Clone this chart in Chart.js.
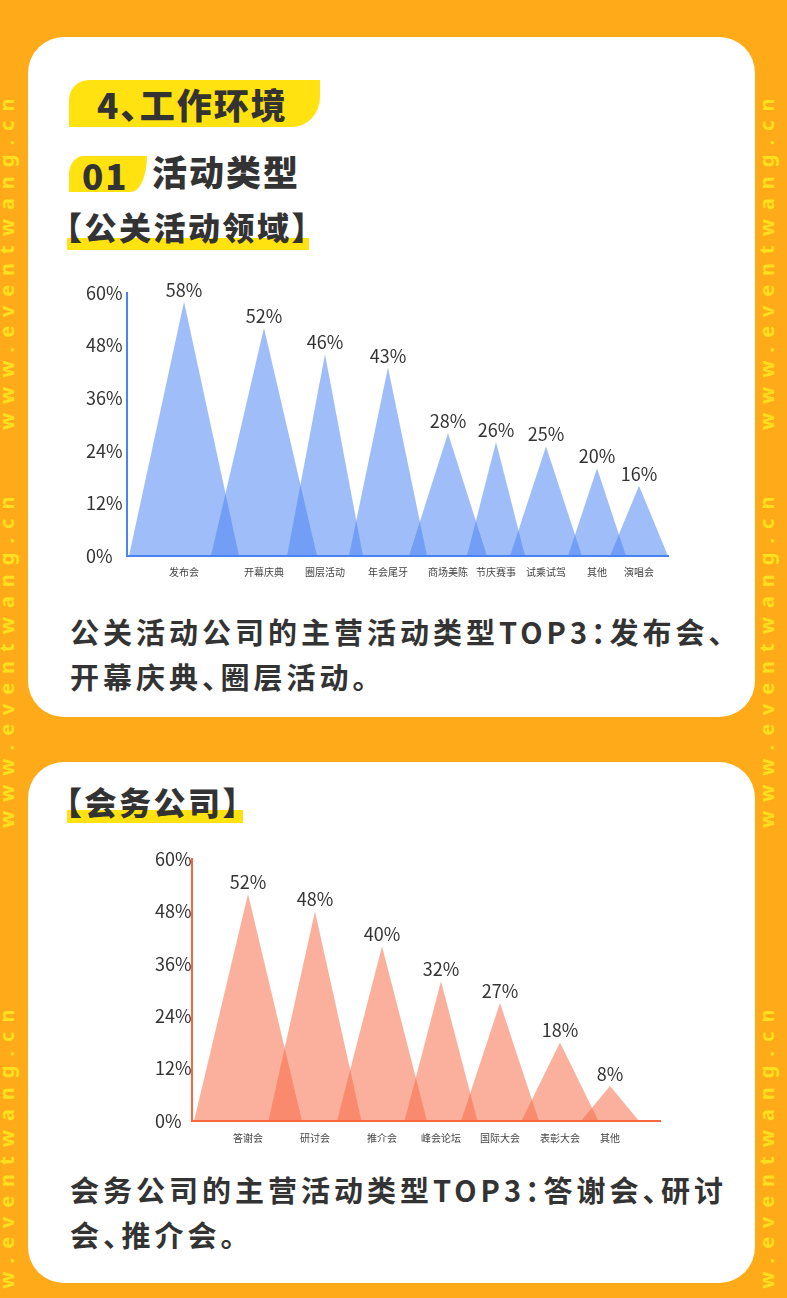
<!DOCTYPE html>
<html lang="zh-CN">
<head>
<meta charset="utf-8">
<script src="https://cdn.jsdelivr.net/npm/chart.js@4.4.1/dist/chart.umd.min.js"></script>
<style>
  html, body { margin: 0; padding: 0; }
  body {
    width: 787px; height: 1298px; position: relative; overflow: hidden;
    background: #FFAB19; color: #333;
    font-family: "Noto Sans CJK SC", "Noto Sans", sans-serif;
  }
  .wm { position: absolute; top: 1298px; width: 1298px; height: 20px;
        transform-origin: 0 0; transform: rotate(-90deg); }
  .wm span { position: absolute; top: 0; white-space: nowrap;
        font-family: "Noto Sans", sans-serif; font-weight: 700; font-size: 20px;
        line-height: 20px; letter-spacing: 9px; color: #FFE01F; }
  .card { position: absolute; left: 28px; width: 727px; background: #fff; border-radius: 36px; }
  .abs { position: absolute; white-space: nowrap; }
  .pill { position: absolute; background: #FFE20F; }
  .bar { position: absolute; background: #FFE20F; }
  .h1 { font-size: 35px; font-weight: 900; line-height: 47px; letter-spacing: 2px; }
  .h2 { font-size: 35px; font-weight: 900; line-height: 36px; letter-spacing: 2px; }
  .h3 { font-size: 32px; font-weight: 900; line-height: 32px; letter-spacing: 2.5px; }
  .para { font-size: 29px; font-weight: 700; line-height: 45px; letter-spacing: 4px; }
  .hw { font-feature-settings: "halt" 1; }
  canvas { position: absolute; }
</style>
</head>
<body>
  <div class="wm" style="left:-3px"><span style="left:-43px">www.eventwang.cn</span><span style="left:470px">www.eventwang.cn</span><span style="left:868px">www.eventwang.cn</span></div>
  <div class="wm" style="left:757px"><span style="left:-43px">www.eventwang.cn</span><span style="left:470px">www.eventwang.cn</span><span style="left:868px">www.eventwang.cn</span></div>

  <div class="card" style="top:37px;height:680px"></div>
  <div class="card" style="top:762px;height:521px"></div>

  <div class="pill" style="left:69px;top:80px;width:251px;height:47px;border-radius:20px 0 28px 0 / 20px 0 30px 0"></div>
  <div class="abs h1" style="left:97px;top:80px">4<span class="hw">、</span>工作环境</div>

  <div class="pill" style="left:69px;top:156px;width:78px;height:36px;border-radius:15px 0 16px 0 / 18px 0 36px 0"></div>
  <div class="abs h2" style="left:82px;top:157px">01</div>
  <div class="abs h2" style="left:152px;top:153px">活动类型</div>

  <div class="bar" style="left:67px;top:238px;width:242px;height:12px"></div>
  <div class="abs h3 hw" style="left:66px;top:210px">【公关活动领域】</div>

  <canvas id="c1" width="600" height="310" style="left:86px;top:278px;width:600px;height:310px"></canvas>

  <div class="abs para" style="left:70px;top:609px">公关活动公司的主营活动类型TOP3<span class="hw">：</span>发布会<span class="hw">、</span><br>开幕庆典<span class="hw">、</span>圈层活动<span class="hw">。</span></div>

  <div class="bar" style="left:67px;top:810px;width:176px;height:13px"></div>
  <div class="abs h3 hw" style="left:66px;top:785px">【会务公司】</div>

  <canvas id="c2" width="530" height="310" style="left:155px;top:845px;width:530px;height:310px"></canvas>

  <div class="abs para" style="left:70px;top:1167px">会务公司的主营活动类型TOP3<span class="hw">：</span>答谢会<span class="hw">、</span>研讨<br>会<span class="hw">、</span>推介会<span class="hw">。</span></div>

<script>
// ---------- data ----------
const prCategories = ['发布会', '开幕庆典', '圈层活动', '年会尾牙', '商场美陈', '节庆赛事', '试乘试驾', '其他', '演唱会'];
const prValues     = [58, 52, 46, 43, 28, 26, 25, 20, 16];

const meetCategories = ['答谢会', '研讨会', '推介会', '峰会论坛', '国际大会', '表彰大会', '其他'];
const meetValues     = [52, 48, 40, 32, 27, 18, 8];

const yTicks = [0, 12, 24, 36, 48, 60];

// ---------- layout (where each peak sits along a 0-100 x axis, and how wide it is) ----------
const prSlots    = [10.54, 25.32, 36.60, 48.24, 59.33, 68.21, 77.45, 86.88, 94.64];
const prSpread   = [10.17, 9.80, 7.02, 7.21, 7.21, 5.36, 6.65, 5.36, 5.36];
const meetSlots  = [11.97, 26.28, 40.60, 53.21, 65.81, 78.63, 89.32];
const meetSpread = [11.54, 9.94, 9.62, 7.80, 8.33, 8.23, 6.20];

const peakLabels = {
  id: 'peakLabels',
  afterDatasetsDraw(chart) {
    const ctx = chart.ctx;
    ctx.save();
    ctx.font = '18px "Noto Sans CJK SC", "Noto Sans", sans-serif';
    ctx.fillStyle = '#333';
    ctx.textAlign = 'center';
    ctx.textBaseline = 'alphabetic';
    chart.data.datasets.forEach((ds, i) => {
      const pt = chart.getDatasetMeta(i).data[1];
      ctx.fillText(ds.label, pt.x, pt.y - 5);
    });
    ctx.restore();
  }
};

function makeChart(id, cats, vals, slots, spread, fillColor, axisColor, pad, yWidth, xHeight, xPad) {
  const datasets = vals.map((v, i) => ({
    label: v + '%',
    data: [
      { x: slots[i] - spread[i], y: 0 },
      { x: slots[i], y: v },
      { x: slots[i] + spread[i], y: 0 }
    ],
    fill: 'origin',
    backgroundColor: fillColor,
    borderWidth: 0,
    pointRadius: 0,
    tension: 0
  }));
  return new Chart(document.getElementById(id), {
    type: 'line',
    data: { datasets },
    plugins: [peakLabels],
    options: {
      responsive: false,
      animation: false,
      devicePixelRatio: 1,
      layout: { padding: pad },
      plugins: { legend: { display: false }, tooltip: { enabled: false } },
      scales: {
        x: {
          type: 'linear', min: 0, max: 100, z: 1,
          grid: { display: false, drawTicks: false },
          border: { display: true, color: axisColor, width: 2 },
          afterBuildTicks: (axis) => { axis.ticks = slots.map(s => ({ value: s })); },
          afterFit: (axis) => { axis.height = xHeight; },
          ticks: {
            autoSkip: false, maxRotation: 0, padding: xPad,
            color: '#444',
            font: { size: 10, family: '"Noto Sans CJK SC", sans-serif' },
            callback: (value, index) => cats[index]
          }
        },
        y: {
          min: 0, max: 60, z: 1,
          grid: { display: false, drawTicks: false },
          border: { display: true, color: axisColor, width: 2 },
          afterBuildTicks: (axis) => { axis.ticks = yTicks.map(t => ({ value: t })); },
          afterFit: (axis) => { axis.width = yWidth; },
          ticks: {
            crossAlign: 'far', color: '#333',
            font: { size: 18, family: '"Noto Sans CJK SC", "Noto Sans", sans-serif' },
            callback: (v) => v + '%'
          }
        }
      }
    }
  });
}

makeChart('c1', prCategories, prValues, prSlots, prSpread,
  'rgba(74,131,242,0.53)', '#4A83F2', { top: 15, right: 18, left: 0, bottom: 0 }, 41, 32, 10);
makeChart('c2', meetCategories, meetValues, meetSlots, meetSpread,
  'rgba(247,103,67,0.52)', '#F7673F', { top: 14, right: 25, left: 0, bottom: 0 }, 37, 34, 11);
</script>
</body>
</html>
